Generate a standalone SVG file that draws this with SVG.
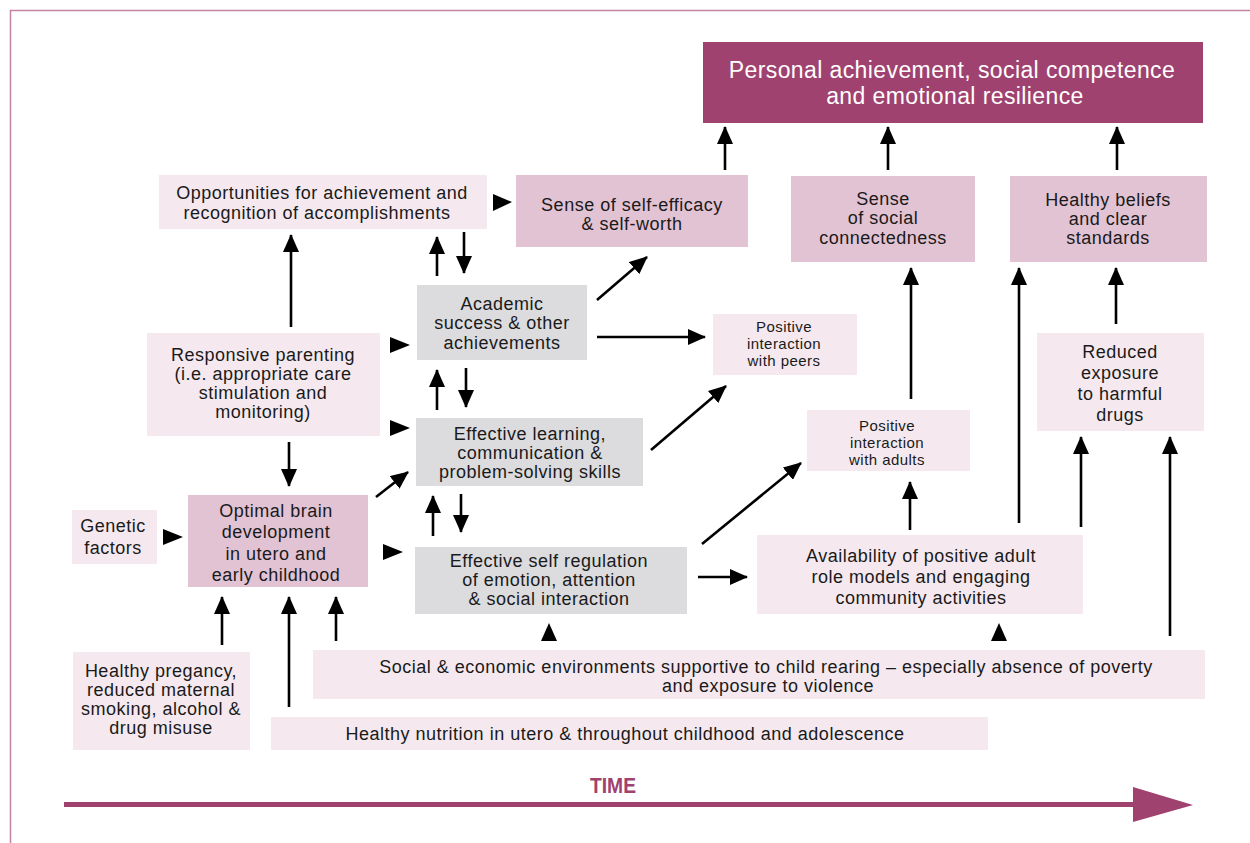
<svg xmlns="http://www.w3.org/2000/svg" width="1250" height="843" viewBox="0 0 1250 843">
<defs>
<style>
text{font-family:"Liberation Sans",Arial,sans-serif;font-size:18px;letter-spacing:0.5px;fill:#1a1a1a;text-anchor:middle}
.sm{font-size:15px;letter-spacing:0.45px}
.big{font-size:23px;letter-spacing:0.4px;fill:#ffffff}
.dark{fill:#a0426f}
.mid{fill:#e2c3d3}
.lt{fill:#f5e9ef}
.gr{fill:#dcdcde}
.ln{stroke:#000;stroke-width:2.6;fill:none;marker-end:url(#ah)}
.hd{fill:#000}
</style>
<marker id="ah" markerUnits="userSpaceOnUse" markerWidth="18" markerHeight="16" refX="17" refY="8" orient="auto">
<path d="M0,0 L18,8 L0,16 Z" fill="#000"/>
</marker>
</defs>
<rect width="1250" height="843" fill="#ffffff"/>
<path d="M10.5,843 V10.5 H1250" fill="none" stroke="#c283a5" stroke-width="1.5"/>

<g id="n-outcome"><rect class="dark" x="703" y="42" width="500" height="81"/>
<text class="big" x="952" y="78">Personal achievement, social competence</text>
<text class="big" x="955" y="104">and emotional resilience</text></g>

<g id="n-opportunities"><rect class="lt" x="159" y="175" width="328" height="54"/>
<text x="322" y="199">Opportunities for achievement and</text>
<text x="317" y="219">recognition of accomplishments</text></g>

<g id="n-selfefficacy"><rect class="mid" x="516" y="175" width="232" height="72"/>
<text x="632" y="211">Sense of self-efficacy</text>
<text x="632" y="230">&amp; self-worth</text></g>

<g id="n-connectedness"><rect class="mid" x="791" y="176" width="184" height="86"/>
<text x="883" y="205">Sense</text>
<text x="883" y="224">of social</text>
<text x="883" y="244">connectedness</text></g>

<g id="n-beliefs"><rect class="mid" x="1010" y="176" width="197" height="86"/>
<text x="1108" y="206">Healthy beliefs</text>
<text x="1108" y="225">and clear</text>
<text x="1108" y="244">standards</text></g>

<g id="n-academic"><rect class="gr" x="417" y="285" width="170" height="75"/>
<text x="502" y="310">Academic</text>
<text x="502" y="329">success &amp; other</text>
<text x="502" y="349">achievements</text></g>

<g id="n-peers"><rect class="lt" x="713" y="314" width="144" height="61"/>
<text class="sm" x="784" y="332">Positive</text>
<text class="sm" x="784" y="349">interaction</text>
<text class="sm" x="784" y="366">with peers</text></g>

<g id="n-parenting"><rect class="lt" x="147" y="333" width="233" height="103"/>
<text x="263" y="361">Responsive parenting</text>
<text x="263" y="380">(i.e. appropriate care</text>
<text x="263" y="399">stimulation and</text>
<text x="263" y="418">monitoring)</text></g>

<g id="n-learning"><rect class="gr" x="416" y="418" width="227" height="68"/>
<text x="530" y="440">Effective learning,</text>
<text x="530" y="459">communication &amp;</text>
<text x="530" y="478">problem-solving skills</text></g>

<g id="n-adults"><rect class="lt" x="807" y="410" width="163" height="61"/>
<text class="sm" x="887" y="431">Positive</text>
<text class="sm" x="887" y="448">interaction</text>
<text class="sm" x="887" y="465">with adults</text></g>

<g id="n-drugs"><rect class="lt" x="1037" y="333" width="167" height="98"/>
<text x="1120" y="358">Reduced</text>
<text x="1120" y="379">exposure</text>
<text x="1120" y="400">to harmful</text>
<text x="1120" y="421">drugs</text></g>

<g id="n-genetic"><rect class="lt" x="72" y="510" width="85" height="54"/>
<text x="113" y="532">Genetic</text>
<text x="113" y="554">factors</text></g>

<g id="n-brain"><rect class="mid" x="188" y="495" width="180" height="92"/>
<text x="276" y="517">Optimal brain</text>
<text x="276" y="538">development</text>
<text x="276" y="560">in utero and</text>
<text x="276" y="581">early childhood</text></g>

<g id="n-selfreg"><rect class="gr" x="415" y="547" width="272" height="67"/>
<text x="549" y="567">Effective self regulation</text>
<text x="549" y="586">of emotion, attention</text>
<text x="549" y="605">&amp; social interaction</text></g>

<g id="n-rolemodels"><rect class="lt" x="757" y="535" width="326" height="79"/>
<text x="921" y="562">Availability of positive adult</text>
<text x="921" y="583">role models and engaging</text>
<text x="921" y="604">community activities</text></g>

<g id="n-environment"><rect class="lt" x="313" y="650" width="892" height="49"/>
<text x="766" y="673">Social &amp; economic environments supportive to child rearing – especially absence of poverty</text>
<text x="768" y="692">and exposure to violence</text></g>

<g id="n-pregnancy"><rect class="lt" x="73" y="652" width="177" height="98"/>
<text x="161" y="677">Healthy pregancy,</text>
<text x="161" y="696">reduced maternal</text>
<text x="161" y="715">smoking, alcohol &amp;</text>
<text x="161" y="734">drug misuse</text></g>

<g id="n-nutrition"><rect class="lt" x="271" y="717" width="717" height="33"/>
<text x="625" y="740">Healthy nutrition in utero &amp; throughout childhood and adolescence</text></g>

<g id="connectors">
<line class="ln" x1="725" y1="170" x2="725" y2="127"/>
<line class="ln" x1="888" y1="170" x2="888" y2="127"/>
<line class="ln" x1="1117" y1="170" x2="1117" y2="127"/>
<line class="ln" x1="291" y1="327" x2="291" y2="235"/>
<line class="ln" x1="437" y1="276" x2="437" y2="237"/>
<line class="ln" x1="464" y1="232" x2="464" y2="273"/>
<line class="ln" x1="437" y1="410" x2="437" y2="370"/>
<line class="ln" x1="466" y1="368" x2="466" y2="407"/>
<line class="ln" x1="433" y1="536" x2="433" y2="496"/>
<line class="ln" x1="461" y1="494" x2="461" y2="532"/>
<line class="ln" x1="597" y1="300" x2="647" y2="257"/>
<line class="ln" x1="597" y1="337" x2="705" y2="337"/>
<line class="ln" x1="651" y1="450" x2="726" y2="386"/>
<line class="ln" x1="376" y1="497" x2="408" y2="472"/>
<line class="ln" x1="702" y1="544" x2="801" y2="463"/>
<line class="ln" x1="698" y1="577" x2="747" y2="577"/>
<line class="ln" x1="289" y1="442" x2="289" y2="486"/>
<line class="ln" x1="222" y1="645" x2="222" y2="597"/>
<line class="ln" x1="289" y1="707" x2="289" y2="597"/>
<line class="ln" x1="336" y1="641" x2="336" y2="597"/>
<line class="ln" x1="910" y1="530" x2="910" y2="482"/>
<line class="ln" x1="911" y1="399" x2="911" y2="268"/>
<line class="ln" x1="1019" y1="523" x2="1019" y2="268"/>
<line class="ln" x1="1081" y1="527" x2="1081" y2="437"/>
<line class="ln" x1="1170" y1="636" x2="1170" y2="437"/>
<line class="ln" x1="1116" y1="324" x2="1116" y2="268"/>
<polygon class="hd" points="493,194 512,202 493,211"/>
<polygon class="hd" points="390,337 410,345 390,353"/>
<polygon class="hd" points="390,420 410,428 390,436"/>
<polygon class="hd" points="163,529 183,537 163,545"/>
<polygon class="hd" points="383,544 403,552 383,560"/>
<polygon class="hd" points="541,641 549,623 557,641"/>
<polygon class="hd" points="991,641 999,623 1007,641"/>
</g>

<g id="time">
<rect x="64" y="802" width="1072" height="5" fill="#a0426f"/>
<polygon points="1133,787 1193,805 1133,822" fill="#a0426f"/>
<text x="613" y="793" style="font-weight:bold;font-size:22px;letter-spacing:0;fill:#a0426f" textLength="46" lengthAdjust="spacingAndGlyphs">TIME</text>
</g>
</svg>
